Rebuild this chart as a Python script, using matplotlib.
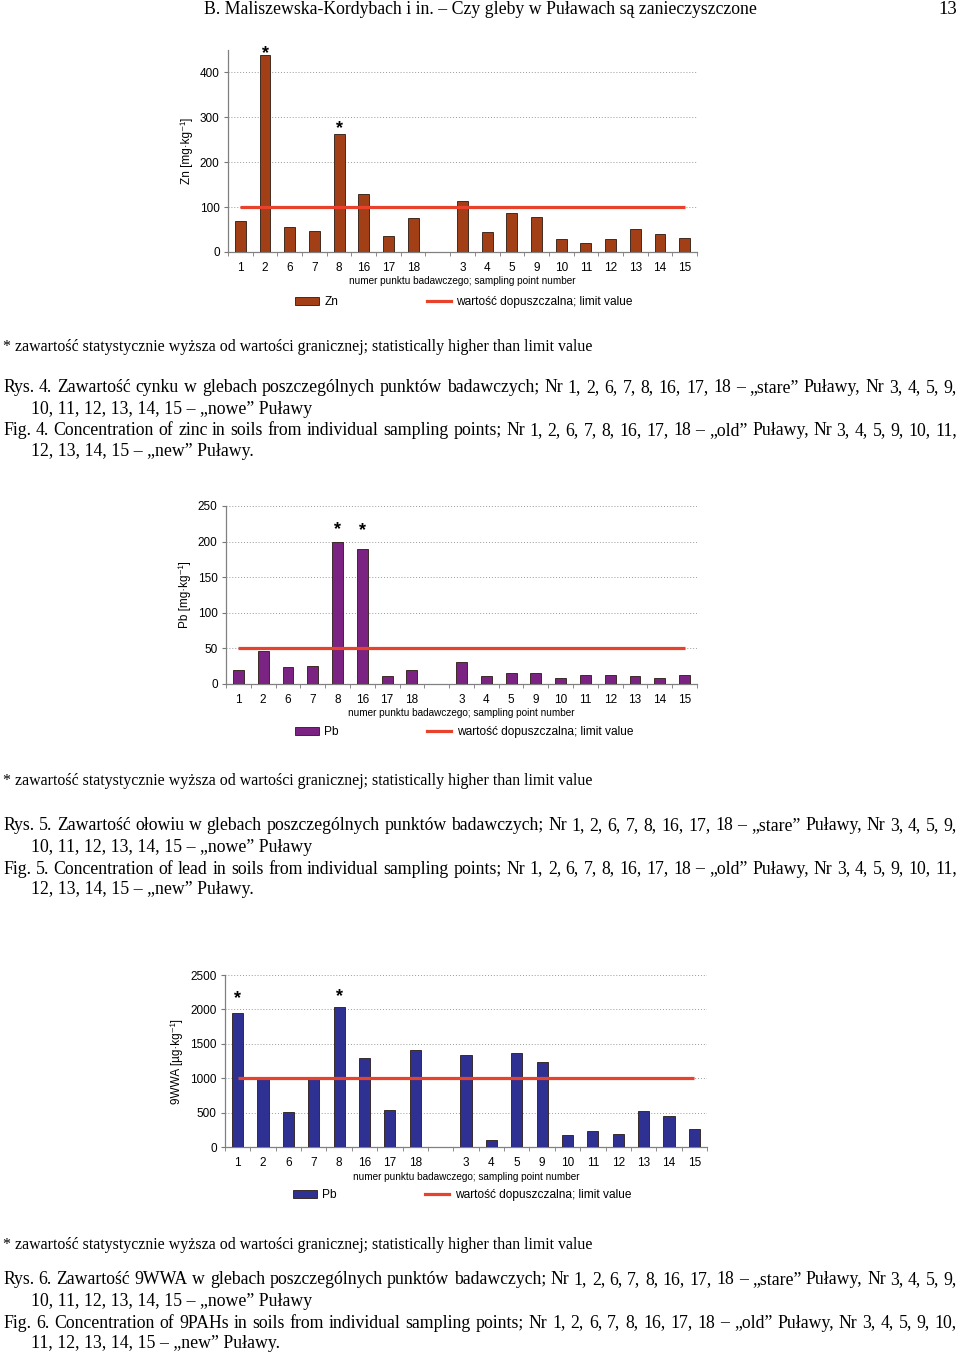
import numpy as np
import matplotlib
matplotlib.use("Agg")
import matplotlib.pyplot as plt
from matplotlib.patches import Patch
from matplotlib.lines import Line2D

plt.rcParams['font.family'] = ['Liberation Sans', 'DejaVu Sans']
SERIF = ['Liberation Serif', 'DejaVu Serif']

# Dane
punkty = ['1', '2', '6', '7', '8', '16', '17', '18', '',
          '3', '4', '5', '9', '10', '11', '12', '13', '14', '15']
zn = [70, 438, 55, 47, 262, 130, 36, 75, None,
      114, 45, 86, 77, 29, 20, 29, 51, 40, 31]
pb = [20, 47, 24, 25, 199, 190, 11, 19, None,
      31, 11, 15, 16, 8, 13, 12, 11, 9, 12]
wwa = [1950, 1010, 515, 1010, 2030, 1300, 540, 1410, None,
       1330, 97, 1360, 1235, 170, 228, 185, 530, 447, 267]

zn_limit = 100
pb_limit = 50
wwa_limit = 1000

# gwiazdki: (punkt, wysokość)
zn_stars = [('2', 443), ('8', 276)]
pb_stars = [('8', 217), ('16', 215)]
wwa_stars = [('1', 2150), ('8', 2185)]

footnote = "* zawartość statystycznie wyższa od wartości granicznej; statistically higher than limit value"
captions = [
    ["Rys. 4. Zawartość cynku w glebach poszczególnych punktów badawczych; Nr 1, 2, 6, 7, 8, 16, 17, 18 – „stare” Puławy, Nr 3, 4, 5, 9,",
     "10, 11, 12, 13, 14, 15 – „nowe” Puławy",
     "Fig. 4. Concentration of zinc in soils from individual sampling points; Nr 1, 2, 6, 7, 8, 16, 17, 18 – „old” Puławy, Nr 3, 4, 5, 9, 10, 11,",
     "12, 13, 14, 15 – „new” Puławy."],
    ["Rys. 5. Zawartość ołowiu w glebach poszczególnych punktów badawczych; Nr 1, 2, 6, 7, 8, 16, 17, 18 – „stare” Puławy, Nr 3, 4, 5, 9,",
     "10, 11, 12, 13, 14, 15 – „nowe” Puławy",
     "Fig. 5. Concentration of lead in soils from individual sampling points; Nr 1, 2, 6, 7, 8, 16, 17, 18 – „old” Puławy, Nr 3, 4, 5, 9, 10, 11,",
     "12, 13, 14, 15 – „new” Puławy."],
    ["Rys. 6. Zawartość 9WWA w glebach poszczególnych punktów badawczych; Nr 1, 2, 6, 7, 8, 16, 17, 18 – „stare” Puławy, Nr 3, 4, 5, 9,",
     "10, 11, 12, 13, 14, 15 – „nowe” Puławy",
     "Fig. 6. Concentration of 9PAHs in soils from individual sampling points; Nr 1, 2, 6, 7, 8, 16, 17, 18 – „old” Puławy, Nr 3, 4, 5, 9, 10,",
     "11, 12, 13, 14, 15 – „new” Puławy."],
]

W, H = 960, 1356
fig = plt.figure(figsize=(W / 100, H / 100), dpi=100)
fig.patch.set_facecolor('white')


def fx(px):
    return px / W


def fy(py):
    return 1 - py / H


def panel(box, values, color, ylabel, ymax, ystep, limit, stars, name, leg_y, leg_x):
    left, top, right, bottom = box
    ax = fig.add_axes([fx(left), fy(bottom), fx(right - left), (bottom - top) / H])
    x = np.arange(len(punkty))
    xs = [i for i, v in enumerate(values) if v is not None]
    hs = [v for v in values if v is not None]
    ax.bar(xs, hs, width=0.44, color=color, edgecolor='#2a1a10', linewidth=0.6, zorder=3)
    ax.hlines(limit, 0, len(punkty) - 1, color='#e8412c', linewidth=2.3, zorder=4)
    for p, h in stars:
        ax.text(punkty.index(p), h, '*', ha='center', va='center', fontsize=13,
                fontweight='bold', color='black', zorder=5)
    ax.set_xlim(-0.5, len(punkty) - 0.5)
    ax.set_ylim(0, ymax)
    ax.set_yticks(np.arange(0, ymax + 1, ystep))
    ax.set_xticks(x)
    ax.set_xticklabels(punkty)
    ax.set_xticks(np.arange(-0.5, len(punkty)), minor=True)
    ax.tick_params(axis='x', which='major', length=0, pad=7, labelsize=8.5)
    ax.tick_params(axis='x', which='minor', length=3, color='#777777', direction='out')
    ax.tick_params(axis='y', length=3, color='#777777', pad=3, labelsize=8.5)
    ax.yaxis.grid(True, linestyle=(0, (1, 2)), color='#9a9a9a', linewidth=0.7, zorder=0)
    for s in ['top', 'right']:
        ax.spines[s].set_visible(False)
    for s in ['left', 'bottom']:
        ax.spines[s].set_color('#808080')
        ax.spines[s].set_linewidth(0.9)
    ax.set_ylabel(ylabel, fontsize=8.5, labelpad=5)
    ax.set_xlabel('numer punktu badawczego; sampling point number', fontsize=7.2, labelpad=2)
    handles = [Patch(facecolor=color, edgecolor='#2a1a10', linewidth=0.6),
               Line2D([0], [0], color='#e8412c', linewidth=2.3)]
    fig.legend(handles, [name, 'wartość dopuszczalna; limit value'], ncol=2,
               loc='center', bbox_to_anchor=(fx(leg_x), fy(leg_y)), frameon=False,
               fontsize=8.6, handlelength=2.0, handleheight=0.6, handletextpad=0.45,
               columnspacing=7.4)
    return ax


panel((228, 50, 697, 252), zn, '#a33f17', 'Zn [mg·kg⁻¹]', 450, 100, zn_limit, zn_stars, 'Zn', 302, 464)
panel((226, 506, 697, 684), pb, '#7b2382', 'Pb [mg·kg⁻¹]', 250, 50, pb_limit, pb_stars, 'Pb', 732, 464)
panel((225, 975, 707, 1147), wwa, '#2e3192', '9WWA [µg·kg⁻¹]', 2500, 500, wwa_limit, wwa_stars, 'Pb', 1195, 462)

renderer = fig.canvas.get_renderer()


def justified(text, x0, x1, y, size):
    words = text.split()
    arts = [fig.text(0, fy(y), w, fontsize=size, family=SERIF, va='center', ha='left')
            for w in words]
    widths = [a.get_window_extent(renderer).width for a in arts]
    gap = ((x1 - x0) - sum(widths)) / (len(words) - 1)
    pos = x0
    for a, w in zip(arts, widths):
        a.set_x(fx(pos))
        pos += w + gap


# nagłówek strony
fig.text(fx(480), fy(10), 'B. Maliszewska-Kordybach i in. – Czy gleby w Puławach są zanieczyszczone',
         family=SERIF, fontsize=12.8, ha='center', va='center')
fig.text(fx(957), fy(10), '13', family=SERIF, fontsize=13.5, ha='right', va='center')

foot_y = [347, 781, 1245]
cap_y = [388, 826, 1280]
for fyv, cy, cap in zip(foot_y, cap_y, captions):
    fig.text(fx(3), fy(fyv), footnote, family=SERIF, fontsize=11.4, ha='left', va='center')
    justified(cap[0], 3, 957, cy, 12.8)
    fig.text(fx(31), fy(cy + 21), cap[1], family=SERIF, fontsize=12.8, ha='left', va='center')
    justified(cap[2], 3, 957, cy + 43, 12.8)
    fig.text(fx(31), fy(cy + 64), cap[3], family=SERIF, fontsize=12.8, ha='left', va='center')

fig.savefig('out.png', dpi=100)
